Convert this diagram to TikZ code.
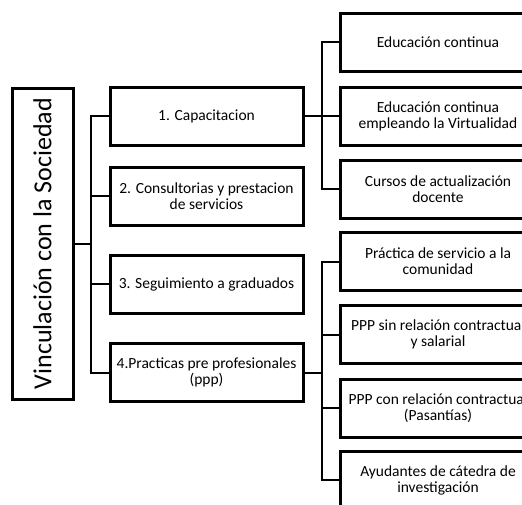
\documentclass[tikz,border=0pt]{standalone}
\usepackage{fontspec}
\setmainfont{Carlito}
\begin{document}
\begin{tikzpicture}[x=1pt,y=-1pt,
  bx/.style={draw=black,line width=3pt,fill=white,rectangle,inner sep=0pt,align=center,
    font=\fontsize{15.5}{16}\selectfont},
  lone/.style={bx,minimum width=193pt,minimum height=58pt},
  ltwo/.style={bx,minimum width=196pt,minimum height=58pt},
  conn/.style={line width=2pt,draw=black}]
\useasboundingbox (0,0) rectangle (522,504);
\clip (0,0) rectangle (522,504);
\node[bx,minimum width=61pt,minimum height=311pt] (root) at (42.5,243.5)
  {\rotatebox{90}{\fontsize{26}{28}\selectfont Vinculación con la Sociedad}};
\node[lone] (b1) at (206.5,116) {1. Capacitacion};
\node[lone] (b2) at (206.5,196) {2. Consultorias y prestacion\\de servicios};
\node[lone] (b3) at (206.5,284) {3. Seguimiento a graduados};
\node[lone] (b4) at (206.5,372.5) {4.Practicas pre profesionales\\(ppp)};
\node[ltwo] (c1) at (438,42) {Educación continua};
\node[ltwo] (c2) at (438,116) {Educación continua\\empleando la Virtualidad};
\node[ltwo] (c3) at (438,189) {Cursos de actualización\\docente};
\node[ltwo] (d1) at (438,261.5) {Práctica de servicio a la\\comunidad};
\node[ltwo] (d2) at (438,334.5) {PPP sin relación contractual\\y salarial};
\node[ltwo] (d3) at (438,408) {PPP con relación contractual\\(Pasantías)};
\node[ltwo] (d4) at (438,480) {Ayudantes de cátedra de\\investigación};
\coordinate (j1) at (91,243.5);
\coordinate (j2) at (322,116);
\coordinate (j3) at (322,372.5);
\draw[conn] (root.east) -- (j1);
\foreach \n in {b1,b2,b3,b4} \draw[conn] (j1) |- (\n.west);
\draw[conn] (b1.east) -- (j2);
\foreach \n in {c1,c2,c3} \draw[conn] (j2) |- (\n.west);
\draw[conn] (b4.east) -- (j3);
\foreach \n in {d1,d2,d3,d4} \draw[conn] (j3) |- (\n.west);
\end{tikzpicture}
\end{document}
